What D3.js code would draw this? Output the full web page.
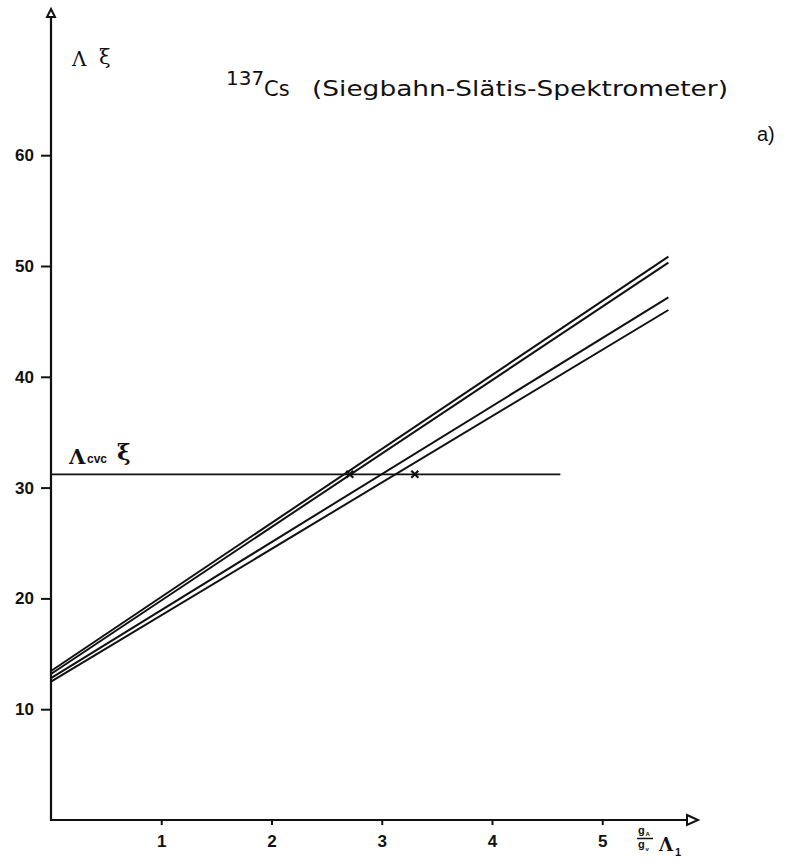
<!DOCTYPE html>
<html>
<head>
<meta charset="utf-8">
<script src="https://cdn.jsdelivr.net/npm/d3@7"></script>
<style>
  body { margin: 0; background: #fff; }
  svg { display: block; }
</style>
</head>
<body>
<svg id="chart" width="788" height="865"></svg>
<script>
// values
const xTicks = [1, 2, 3, 4, 5];
const yTicks = [10, 20, 30, 40, 50, 60];
const lineRangeX = [0, 5.6];
const lineStartY = [13.45, 13.18, 12.8, 12.48];
const lineEndY = [50.84, 50.3, 47.17, 46.03];
const cvcLevel = 31.2;
const cvcRangeX = [0, 4.62];
const crossX = [2.71, 3.3];

const svg = d3.select("#chart");
const ink = "#111";

const x = d3.scaleLinear().domain([0, 6]).range([51, 51 + 6 * 110.25]);
const y = d3.scaleLinear().domain([0, 70]).range([820, 820 - 70 * 11.08]);

// axes
const xAxis = d3.axisBottom(x).tickValues(xTicks).tickSize(5).tickPadding(10).tickFormat(d3.format("d"));
const yAxis = d3.axisLeft(y).tickValues(yTicks).tickSize(10).tickPadding(7).tickFormat(d3.format("d"));

const gx = svg.append("g").attr("transform", `translate(0,${y(0)})`).call(xAxis);
const gy = svg.append("g").attr("transform", `translate(${x(0)},0)`).call(yAxis);
[gx, gy].forEach((g) => {
  g.attr("font-size", null).attr("font-family", null);
  g.select(".domain").remove();
  g.selectAll(".tick line").attr("stroke", ink).attr("stroke-width", 2);
  g.selectAll(".tick text")
    .attr("font-family", "'Liberation Sans', Arial, sans-serif")
    .attr("font-weight", "bold")
    .attr("font-size", 17)
    .attr("fill", ink);
});

// axis lines with hollow arrow heads
const xEnd = 687, yEnd = 17;
svg.append("line").attr("x1", x(0)).attr("x2", xEnd).attr("y1", y(0)).attr("y2", y(0))
  .attr("stroke", ink).attr("stroke-width", 2.2);
svg.append("line").attr("x1", x(0)).attr("x2", x(0)).attr("y1", y(0) + 1).attr("y2", yEnd)
  .attr("stroke", ink).attr("stroke-width", 2.2);
svg.append("path").attr("d", `M${xEnd},${y(0) - 5}L${xEnd + 11},${y(0)}L${xEnd},${y(0) + 5}Z`)
  .attr("fill", "#fff").attr("stroke", ink).attr("stroke-width", 2);
svg.append("path").attr("d", `M${x(0) - 4},${yEnd}L${x(0)},${yEnd - 8}L${x(0) + 4},${yEnd}Z`)
  .attr("fill", "#fff").attr("stroke", ink).attr("stroke-width", 2);

// straight lines
const line = d3.line().x((d) => x(d[0])).y((d) => y(d[1]));
lineStartY.forEach((s, i) => {
  svg.append("path")
    .attr("d", line([[lineRangeX[0], s], [lineRangeX[1], lineEndY[i]]]))
    .attr("fill", "none").attr("stroke", ink).attr("stroke-width", 2);
});

// CVC level
svg.append("path")
  .attr("d", line([[cvcRangeX[0], cvcLevel], [cvcRangeX[1], cvcLevel]]))
  .attr("fill", "none").attr("stroke", ink).attr("stroke-width", 1.8);

crossX.forEach((cx) => {
  const px = x(cx), py = y(cvcLevel);
  svg.append("path")
    .attr("d", `M${px - 3.5},${py - 3.5}L${px + 3.5},${py + 3.5}M${px - 3.5},${py + 3.5}L${px + 3.5},${py - 3.5}`)
    .attr("stroke", ink).attr("stroke-width", 2.2);
});

// labels
const serif = "'DejaVu Serif', serif";
const sans = "'DejaVu Sans', sans-serif";

svg.append("text").attr("x", 72).attr("y", 66).attr("font-family", serif).attr("font-size", 20)
  .attr("fill", ink).text("Λ");
svg.append("text").attr("x", 99).attr("y", 64).attr("font-family", serif).attr("font-size", 21)
  .attr("fill", ink).text("ξ");

svg.append("text").attr("x", 226).attr("y", 85).attr("font-family", sans).attr("font-size", 20)
  .attr("fill", ink).text("137");
svg.append("text").attr("x", 264).attr("y", 96).attr("font-family", sans).attr("font-size", 21)
  .attr("fill", ink).text("Cs");
svg.append("text").attr("x", 312).attr("y", 96).attr("font-family", sans).attr("font-size", 21)
  .attr("fill", ink).attr("textLength", 416).attr("lengthAdjust", "spacingAndGlyphs")
  .text("(Siegbahn-Slätis-Spektrometer)");

svg.append("text").attr("x", 757).attr("y", 141).attr("font-family", "'Liberation Sans', sans-serif")
  .attr("font-size", 20).attr("fill", ink).text("a)");

// Λcvc ξ
svg.append("text").attr("x", 69).attr("y", 464).attr("font-family", serif).attr("font-weight", "bold")
  .attr("font-size", 21).attr("fill", ink).text("Λ");
svg.append("text").attr("x", 87).attr("y", 463).attr("font-family", "'Liberation Sans', sans-serif")
  .attr("font-weight", "bold").attr("font-size", 12).attr("fill", ink).text("cvc");
svg.append("text").attr("x", 117).attr("y", 460).attr("font-family", serif).attr("font-weight", "bold")
  .attr("font-size", 23).attr("fill", ink).text("ξ");

// x axis label: gA/gV Λ1
const lab = svg.append("g").attr("fill", ink).attr("font-family", "'Liberation Sans', sans-serif").attr("font-weight", "bold");
lab.append("text").attr("x", 638).attr("y", 834).attr("font-size", 11).text("g");
lab.append("text").attr("x", 645.5).attr("y", 836).attr("font-size", 6).text("A");
lab.append("line").attr("x1", 637).attr("x2", 653).attr("y1", 838.5).attr("y2", 838.5)
  .attr("stroke", ink).attr("stroke-width", 1.5);
lab.append("text").attr("x", 638).attr("y", 848).attr("font-size", 11).text("g");
lab.append("text").attr("x", 645.5).attr("y", 851).attr("font-size", 6).text("v");
lab.append("text").attr("x", 659).attr("y", 851).attr("font-family", serif).attr("font-size", 18).text("Λ");
lab.append("text").attr("x", 675).attr("y", 856).attr("font-size", 11).text("1");
</script>
</body>
</html>
